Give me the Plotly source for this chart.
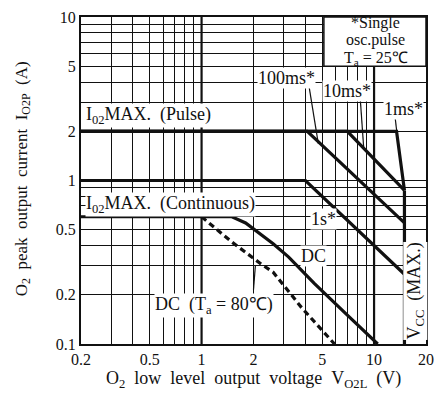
import math
import plotly.graph_objects as go

# ---- axis ticks (every decade step gets a grid line, only some are labelled) ----
x_ticks = [0.2, 0.3, 0.4, 0.5, 0.6, 0.7, 0.8, 0.9, 1, 2, 3, 4, 5, 6, 7, 8, 9, 10, 20]
x_tick_labels = {0.2: "0.2", 0.5: "0.5", 1: "1", 2: "2", 5: "5", 10: "10", 20: "20"}
y_ticks = [0.1, 0.2, 0.3, 0.4, 0.5, 0.6, 0.7, 0.8, 0.9, 1, 2, 3, 4, 5, 6, 7, 8, 9, 10]
y_tick_labels = {0.1: "0.1", 0.2: "0.2", 0.5: "0.5", 1: "1", 2: "2", 5: "5", 10: "10"}
x_decades = [1, 10]

# ---- safe operating area boundaries (V_O2L in V, I_O2P in A) ----
pulse_1ms_v = [0.2, 13.5, 15.0]
pulse_1ms_i = [2.0, 2.0, 0.87]
pulse_10ms_v = [0.2, 7.0, 15.0]
pulse_10ms_i = [2.0, 2.0, 0.87]
pulse_100ms_v = [0.2, 4.1, 15.0]
pulse_100ms_i = [2.0, 2.0, 0.55]
pulse_1s_v = [0.2, 4.0, 15.0]
pulse_1s_i = [1.0, 1.0, 0.267]
dc_v = [0.2, 1.5, 1.8, 2.2, 2.6, 3.2, 4.5, 7.0, 10.5]
dc_i = [0.6, 0.6, 0.55, 0.47, 0.41, 0.34, 0.235, 0.15, 0.1]
dc80_v = [1.0, 1.5, 2.2, 2.6, 3.8, 5.9]
dc80_i = [0.6, 0.42, 0.31, 0.275, 0.167, 0.1]
vcc_max_v = [15.0, 15.0]
vcc_max_i = [0.87, 0.1]

SERIF = "Liberation Serif"
INK = "#111111"
NB = "\u00a0"
GAP = NB + NB

fig = go.Figure()

solid_curves = [
    (pulse_1ms_v, pulse_1ms_i),
    (pulse_10ms_v, pulse_10ms_i),
    (pulse_100ms_v, pulse_100ms_i),
    (pulse_1s_v, pulse_1s_i),
    (dc_v, dc_i),
    (vcc_max_v, vcc_max_i),
]
for v, i in solid_curves:
    fig.add_trace(go.Scatter(x=v, y=i, mode="lines",
                             line=dict(color=INK, width=3.2),
                             hoverinfo="skip", showlegend=False))

fig.add_trace(go.Scatter(x=dc80_v, y=dc80_i, mode="lines",
                         line=dict(color=INK, width=3.2, dash="6px,4px"),
                         hoverinfo="skip", showlegend=False))


def L(v):
    return math.log10(v)


def label(text, x, y, xanchor="center", yanchor="middle", bg=None, angle=0, size=18):
    fig.add_annotation(x=L(x), y=L(y), xref="x", yref="y", text=text,
                       showarrow=False, xanchor=xanchor, yanchor=yanchor,
                       textangle=angle, bgcolor=bg, borderpad=0,
                       font=dict(family=SERIF, size=size, color=INK))


def leader(v0, i0, v1, i1):
    fig.add_shape(type="line", x0=v0, y0=i0, x1=v1, y1=i1, xref="x", yref="y",
                  line=dict(color=INK, width=1.2))


# heavier decade lines on the voltage axis
for d in x_decades:
    fig.add_shape(type="line", xref="x", yref="paper", x0=d, x1=d, y0=0, y1=1,
                  line=dict(color=INK, width=2.2), layer="below")

# notes box in the upper right corner
fig.add_shape(type="rect", xref="paper", yref="y", x0=0.704, x1=1.0, y0=5, y1=10,
              fillcolor="white", line=dict(color=INK, width=1.5), layer="above")
for txt, yv in [("*Single", 9.2), ("osc.pulse", 7.2), ("T<sub>a</sub>" + NB + "=" + NB + "25℃", 5.6)]:
    fig.add_annotation(xref="paper", yref="y", x=0.855, y=L(yv), text=txt,
                       showarrow=False, xanchor="center", yanchor="middle",
                       font=dict(family=SERIF, size=16, color=INK))

label("I<sub>02</sub>MAX." + GAP + "(Pulse)", 0.212, 2.5, xanchor="left", bg="white")
label("I<sub>02</sub>MAX." + GAP + "(Continuous)", 0.212, 0.71, xanchor="left", bg="white")
label("DC" + GAP + "(T<sub>a</sub>" + NB + "=" + NB + "80℃)", 0.53, 0.172, xanchor="left", bg="white")
label("DC", 4.46, 0.346, bg="white")
label("1s*", 5.1, 0.58, bg="white")
label("100ms*", 3.1, 4.25, bg="white")
label("10ms*", 7.0, 3.55, bg="white")
label("1ms*", 14.9, 2.74, bg="white")
label("V<sub>CC</sub>" + GAP + "(MAX.)", 17.3, 0.21, angle=-90, bg="white")

leader(4.2, 3.75, 4.75, 1.68)
leader(8.3, 3.25, 8.7, 1.6)
leader(13.2, 2.5, 13.55, 1.98)
leader(2.05, 0.3, 2.0, 0.215)

# axis titles
fig.add_annotation(xref="paper", yref="paper", x=0.5, y=-0.11, xanchor="center", yanchor="middle",
                   text="O<sub>2</sub>" + GAP + "low" + GAP + "level" + GAP + "output" + GAP
                   + "voltage" + GAP + "V<sub>O2L</sub>" + GAP + "(V)",
                   showarrow=False, font=dict(family=SERIF, size=18, color=INK))
fig.add_annotation(xref="paper", yref="paper", x=-0.168, y=0.504, xanchor="center", yanchor="middle",
                   textangle=-90,
                   text="O<sub>2</sub>" + GAP + "peak" + GAP + "output" + GAP + "current" + GAP
                   + "I<sub>O2P</sub>" + GAP + "(A)",
                   showarrow=False, font=dict(family=SERIF, size=17, color=INK))

axis_common = dict(type="log", showgrid=True, gridcolor=INK, gridwidth=1.3,
                   showline=True, linecolor=INK, linewidth=2, mirror=True,
                   ticks="", zeroline=False,
                   tickfont=dict(family=SERIF, size=16, color=INK))

fig.update_layout(
    width=443, height=394,
    margin=dict(l=81, r=11, t=9, b=50),
    paper_bgcolor="white", plot_bgcolor="white",
    font=dict(family=SERIF, color=INK),
    xaxis=dict(axis_common, range=[L(0.2), L(20)], tickvals=x_ticks,
               ticktext=[x_tick_labels.get(t, "") for t in x_ticks]),
    yaxis=dict(axis_common, range=[L(0.1), L(10)], tickvals=y_ticks,
               ticktext=[y_tick_labels.get(t, "") for t in y_ticks]),
)

fig.write_html("out.html")
